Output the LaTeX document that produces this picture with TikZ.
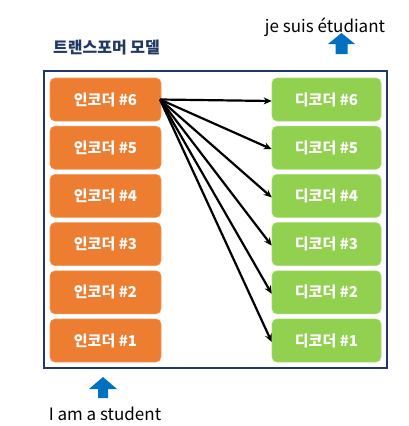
\documentclass[tikz,border=0pt]{standalone}
\usepackage{fontspec}
\setmainfont{Noto Sans CJK KR}
\newfontfamily\kr{Noto Sans CJK KR}
\usetikzlibrary{arrows.meta}
\definecolor{encorange}{HTML}{ED7D31}
\definecolor{decgreen}{HTML}{92D050}
\definecolor{navy}{HTML}{1F3864}
\definecolor{arrowblue}{HTML}{0070C0}
\tikzset{
  encbox/.style={fill=encorange, draw=encorange!80!white, line width=0.6pt, rounded corners=5pt, minimum width=111pt, minimum height=43pt, inner sep=0pt, text=white, font=\kr\bfseries\fontsize{15}{17}\selectfont},
  decbox/.style={fill=decgreen, draw=decgreen!80!white, line width=0.6pt, rounded corners=5pt, minimum width=109pt, minimum height=43pt, inner sep=0pt, text=white, font=\kr\bfseries\fontsize{15}{17}\selectfont},
  link/.style={draw=black, line width=2.2pt, -{Stealth[length=8pt,width=7pt]}},
  uparrow/.style={fill=arrowblue, draw=none},
  caption/.style={font=\kr\fontsize{17}{19}\selectfont, text=black, inner sep=0pt}
}
\begin{document}
\begin{tikzpicture}[x=1pt,y=-1pt]
\useasboundingbox (0,0) rectangle (409,426);
\fill[white] (0,0) rectangle (409,426);
% frame
\node[draw=navy, line width=2.2pt, minimum width=343pt, minimum height=297pt, inner sep=0pt] (frame) at (215.5,219.5) {};
% title
\node[font=\kr\bfseries\fontsize{16}{18}\selectfont, text=navy, inner sep=0pt, anchor=base west] (title) at (53,53) {트랜스포머 모델};
% encoders and decoders
\foreach \i/\y in {6/99.5,5/147.7,4/195.9,3/244.1,2/292.3,1/340.5}{
  \node[encbox] (e\i) at (105.5,\y) {인코더 \#\i};
  \node[decbox] (d\i) at (326.5,\y) {디코더 \#\i};
}
\coordinate (src) at (160,99.5);
\foreach \i in {6,5,4,3,2,1}{
  \draw[link] (src) -- ([yshift=-1.5pt]d\i.west);
}
% captions
\node[caption, anchor=base] (out) at (325,32) {je suis étudiant};
\node[caption, anchor=base] (in) at (105,420) {I am a student};
% up arrows
\fill[uparrow] (328,44) -- (341.5,33) -- (355,44) -- (347.5,44) -- (347.5,54) -- (335.5,54) -- (335.5,44) -- cycle;
\fill[uparrow] (89,389) -- (103,377) -- (117,389) -- (108,389) -- (108,398) -- (98,398) -- (98,389) -- cycle;
\end{tikzpicture}
\end{document}
